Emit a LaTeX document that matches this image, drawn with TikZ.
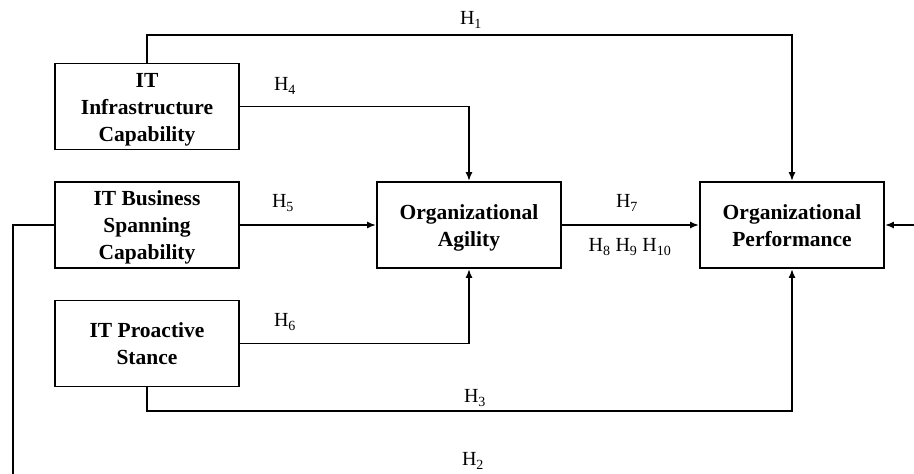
\documentclass[tikz,border=0pt]{standalone}
\usepackage{fontspec}
\setmainfont{Liberation Serif}
\usetikzlibrary{arrows.meta}
\newcommand{\boxtext}[1]{\raisebox{-15pt}{\smash{\begin{tabular}{@{}c@{}}#1\end{tabular}}}}
\begin{document}
\begin{tikzpicture}[x=1pt,y=-1pt,
  box/.style={draw,line width=1.8pt,minimum width=184pt,minimum height=86pt,align=center,inner sep=0pt,font=\fontsize{21.5}{27}\selectfont\bfseries},
  conn/.style={line width=1.8pt},
  arr/.style={conn,-{Latex[length=9pt,width=7pt]}},
  lab/.style={font=\fontsize{20}{22}\selectfont,inner sep=0pt}]
\useasboundingbox (0,0) rectangle (914,474);
\node[box] (inf) at (147,106.5) {\boxtext{IT\\Infrastructure\\Capability}};
\node[box] (bus) at (147,225) {\boxtext{IT Business\\Spanning\\Capability}};
\node[box] (pro) at (147,343.5) {\boxtext{IT Proactive\\Stance}};
\node[box] (agi) at (469,225) {\boxtext{Organizational\\Agility}};
\node[box] (per) at (792,225) {\boxtext{Organizational\\Performance}};
\coordinate (h1a) at (147,35);
\coordinate (h1b) at (792,35);
\coordinate (h3a) at (147,411);
\coordinate (h3b) at (792,411);
\coordinate (h2a) at (13,225);
\coordinate (h2b) at (13,480);
\coordinate (h2r) at (916,225);
\draw[arr] (inf.north) -- (h1a) -- (h1b) -- (per.north);
\draw[arr] (inf.east) -| (agi.north);
\draw[arr] (bus.east) -- (agi.west);
\draw[arr] (pro.east) -| (agi.south);
\draw[arr] (agi.east) -- (per.west);
\draw[arr] (pro.south) -- (h3a) -- (h3b) -- (per.south);
\draw[conn] (bus.west) -- (h2a) -- (h2b);
\draw[arr] (h2r) -- (per.east);
\node[lab] (l1) at (471,20) {H\textsubscript{1}};
\node[lab] (l4) at (285,86) {H\textsubscript{4}};
\node[lab] (l5) at (283,203) {H\textsubscript{5}};
\node[lab] (l6) at (285,322) {H\textsubscript{6}};
\node[lab] (l7) at (627,203) {H\textsubscript{7}};
\node[lab] (l8) at (630,247) {H\textsubscript{8} H\textsubscript{9} H\textsubscript{10}};
\node[lab] (l3) at (475,398) {H\textsubscript{3}};
\node[lab] (l2) at (473,461) {H\textsubscript{2}};
\end{tikzpicture}
\end{document}
